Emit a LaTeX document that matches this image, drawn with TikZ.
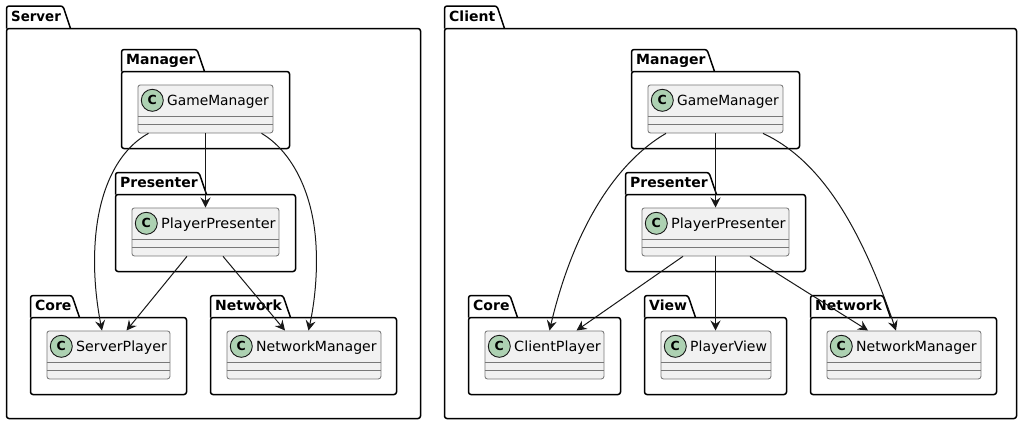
\documentclass[tikz,border=0pt]{standalone}
\usepackage{fontspec}
\setmainfont{DejaVu Sans}
\usetikzlibrary{arrows.meta,calc}
\definecolor{edgecol}{HTML}{181818}
\definecolor{classfill}{HTML}{F1F1F1}
\definecolor{classline}{HTML}{787878}
\definecolor{spotfill}{HTML}{ADD1B2}
\tikzset{
  pkgline/.style={draw=black,line width=1.5pt,rounded corners=2.5pt},
  pkgtitle/.style={anchor=base west,inner sep=0pt,font=\fontsize{14}{16}\selectfont\bfseries,text=black},
  classbox/.style={draw=classline,line width=0.85pt,fill=classfill,rounded corners=2.5pt,inner sep=0pt,anchor=north west},
  classdiv/.style={draw=classline,line width=0.85pt},
  classname/.style={anchor=base west,inner sep=0pt,font=\fontsize{14}{16}\selectfont,text=black},
  spot/.style={circle,draw=edgecol,line width=0.9pt,fill=spotfill,minimum size=22pt,inner sep=0pt,font=\fontsize{12.5}{14}\selectfont\bfseries,text=black},
  edge/.style={draw=edgecol,line width=1pt,-{Stealth[length=10pt,width=10pt,inset=3.5pt]}}
}
% \pkg{id}{title}{x0}{tabtop}{tabend}{bodytop}{x1}{y2}
\newcommand{\pkg}[8]{%
  \draw[pkgline] (#3,#6) -- (#3,#4) -- ({#5-7.5},#4) -- (#5,#6);
  \draw[pkgline] (#3,#6) -- (#7,#6) -- (#7,#8) -- (#3,#8) -- cycle;
  \node[pkgtitle] (#1) at ({#3+4.5},{#4+15}) {#2};
}
% \cls{id}{name}{x0}{y0}{x1}{hscale}
\newcommand{\cls}[6]{%
  \pgfmathsetmacro{\cw}{#5-#3}
  \node[classbox,minimum width=\cw pt,minimum height=48pt] (#1) at (#3,#4) {};
  \draw[classdiv] (#3,{#4+32}) -- (#5,{#4+32});
  \draw[classdiv] (#3,{#4+40}) -- (#5,{#4+40});
  \node[spot] (#1spot) at ({#3+14.8},{#4+15.8}) {C};
  \node[classname] (#1name) at ({#3+29.5},{#4+20.7}) {\scalebox{#6}[1]{#2}};
}
\begin{document}
\begin{tikzpicture}[x=1pt,y=-1pt]
\useasboundingbox (0,0) rectangle (1026,424);
\fill[white] (0,0) rectangle (1026,424);
% Server
\pkg{srv}{\scalebox{.955}[1]{Server}}{6.5}{6}{70.5}{28.5}{420.5}{418.5}
\pkg{sman}{Manager}{121.5}{49.5}{204.5}{71.5}{289.5}{148.5}
\pkg{spre}{Presenter}{115.5}{172.5}{206.5}{194.5}{295.5}{271.5}
\pkg{score}{Core}{30.5}{295.5}{79.5}{317.5}{186.5}{394.5}
\pkg{snet}{Network}{210.5}{295.5}{290.5}{317.5}{396.5}{394.5}
\cls{sGM}{GameManager}{137.5}{84.5}{272.5}{.985}
\cls{sPP}{PlayerPresenter}{131.5}{207.5}{278.5}{1.036}
\cls{sSP}{ServerPlayer}{46.5}{330.5}{169.5}{1.013}
\cls{sNM}{NetworkManager}{226.5}{330.5}{380.5}{1.005}
% Client
\pkg{cli}{Client}{444.5}{6}{504.5}{28.5}{1016.5}{418.5}
\pkg{cman}{Manager}{631.5}{49.5}{714.5}{71.5}{799.5}{148.5}
\pkg{cpre}{Presenter}{625.5}{172.5}{716.5}{194.5}{805.5}{271.5}
\pkg{ccore}{Core}{468.5}{295.5}{517.5}{317.5}{620.5}{394.5}
\pkg{cview}{View}{644.5}{295.5}{695.5}{317.5}{786.5}{394.5}
\pkg{cnet}{Network}{810.5}{295.5}{890.5}{317.5}{996.5}{394.5}
\cls{cGM}{GameManager}{647.5}{84.5}{782.5}{.985}
\cls{cPP}{PlayerPresenter}{641.5}{207.5}{788.5}{1.036}
\cls{cCP}{ClientPlayer}{484.5}{330.5}{603.5}{1.03}
\cls{cPV}{PlayerView}{660.5}{330.5}{770.5}{1}
\cls{cNM}{NetworkManager}{826.5}{330.5}{980.5}{1.005}
% Server edges
\draw[edge] ($(sGM.south west)+(11,0)$) .. controls (118,150) and (98,190) .. (95,245) .. controls (93,280) and (98,310) .. ($(sSP.north west)+(55.5,0)$);
\draw[edge] ($(sGM.south west)+(68,0)$) -- ($(sPP.north west)+(74,0)$);
\draw[edge] ($(sGM.south west)+(124,0)$) .. controls (290,150) and (313,190) .. (316,245) .. controls (318,280) and (313,310) .. ($(sNM.north west)+(82,0)$);
\draw[edge] ($(sPP.south west)+(55.5,0)$) -- ($(sSP.north west)+(80,0)$);
\draw[edge] ($(sPP.south west)+(91.5,0)$) -- ($(sNM.north west)+(58.5,0)$);
% Client edges
\draw[edge] ($(cGM.south west)+(18.5,0)$) .. controls (612,165) and (572,235) .. ($(cCP.north west)+(65,0)$);
\draw[edge] ($(cGM.south west)+(68,0)$) -- ($(cPP.north west)+(74,0)$);
\draw[edge] ($(cGM.south west)+(115.5,0)$) .. controls (820,160) and (860,225) .. ($(cNM.north west)+(69.5,0)$);
\draw[edge] ($(cPP.south west)+(41.5,0)$) -- ($(cCP.north west)+(92,0)$);
\draw[edge] ($(cPP.south west)+(74,0)$) -- ($(cPV.north west)+(55,0)$);
\draw[edge] ($(cPP.south west)+(108.5,0)$) -- ($(cNM.north west)+(41.5,0)$);
\end{tikzpicture}
\end{document}
